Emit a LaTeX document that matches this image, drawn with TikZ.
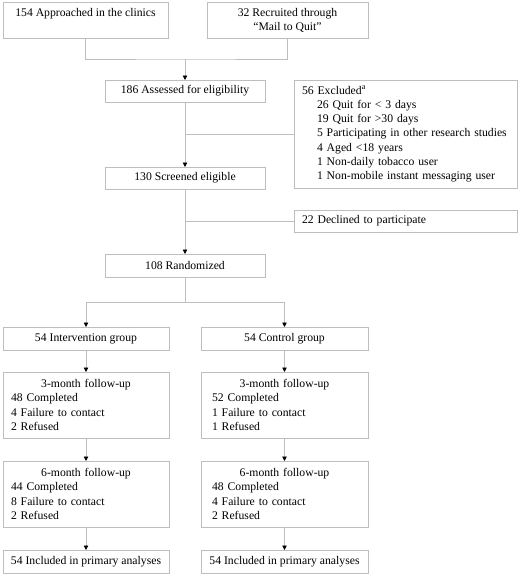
\documentclass[tikz,border=0pt]{standalone}
\usepackage{fontspec}
\setmainfont{Liberation Serif}
\usepackage{xcolor}
\usetikzlibrary{arrows.meta, positioning}
\definecolor{cinza}{RGB}{190,190,190}

\begin{document}
\begin{tikzpicture}[
		    x=1pt, y=-1pt,
		    every node/.style={font=\fontsize{11.7pt}{14.2pt}\selectfont},
		    caixa/.style={draw=cinza, line width=0.8pt, anchor=north west, outer sep=0pt, inner sep=0pt, align=center},
		    lista/.style={caixa, align=left, inner xsep=#1},
		    linha/.style={draw=cinza, line width=0.8pt},
		    seta/.style={linha, -{Triangle[length=4.5pt, width=4.5pt, black]}}
		]
		\useasboundingbox (0,0) rectangle (520,576);
		% entrada
		\node[caixa, minimum width=165pt, minimum height=36pt] (clinicas) at (3,2) {154 Approached in the clinics\\ \mbox{}};
		\node[caixa, minimum width=161pt, minimum height=36pt] (correio) at (207,2) {32 Recruited through\\ “Mail to Quit”};
		\node[caixa, minimum width=160pt, minimum height=22pt] (avaliados) at (105,80) {186 Assessed for eligibility};
		\node[lista=8pt, text width=207pt, minimum height=108pt] (excluidos) at (294,80) {56 Excluded\textsuperscript{a}\\
		    \hspace*{15pt}26 Quit for < 3 days\\
		    \hspace*{15pt}19 Quit for >30 days\\
		    \hspace*{15pt}5 Participating in other research studies\\
		    \hspace*{15pt}4 Aged <18 years\\
		    \hspace*{15pt}1 Non-daily tobacco user\\
		    \hspace*{15pt}1 Non-mobile instant messaging user};
		\node[caixa, minimum width=160pt, minimum height=22pt] (elegiveis) at (105,167) {130 Screened eligible};
		\node[lista=8pt, text width=207pt, minimum height=22pt] (recusou) at (294,210) {22 Declined to participate};
		\node[caixa, minimum width=160pt, minimum height=23pt] (aleat) at (105,254) {108 Randomized};
		% grupos
		\node[caixa, minimum width=166pt, minimum height=23pt] (interv) at (3,327) {54 Intervention group};
		\node[caixa, minimum width=167pt, minimum height=23pt] (controle) at (201,327) {54 Control group};
		\node[lista=8pt, text width=150pt, minimum height=66pt] (interv3) at (3,372) {\makebox[\hsize]{3-month follow-up}\\
		    48 Completed\\ 4 Failure to contact\\ 2 Refused};
		\node[lista=11pt, text width=145pt, minimum height=66pt] (controle3) at (201,372) {\makebox[\hsize]{3-month follow-up}\\
		    52 Completed\\ 1 Failure to contact\\ 1 Refused};
		\node[lista=8pt, text width=150pt, minimum height=66pt] (interv6) at (3,461) {\makebox[\hsize]{6-month follow-up}\\
		    44 Completed\\ 8 Failure to contact\\ 2 Refused};
		\node[lista=11pt, text width=145pt, minimum height=66pt] (controle6) at (201,461) {\makebox[\hsize]{6-month follow-up}\\
		    48 Completed\\ 4 Failure to contact\\ 2 Refused};
		\node[caixa, minimum width=166pt, minimum height=23pt] (intervA) at (3,550) {54 Included in primary analyses};
		\node[caixa, minimum width=167pt, minimum height=23pt] (controleA) at (201,550) {54 Included in primary analyses};
		% ligacoes
		\coordinate (juncao) at (185,59);
		\coordinate (divisao) at (185,302);
		\draw[linha] (clinicas.south) |- (juncao) -| (correio.south);
		\draw[seta] (juncao) -- (avaliados.north);
		\draw[seta] (avaliados) -- (elegiveis);
		\draw[linha] (avaliados.south |- excluidos.west) -- (excluidos.west);
		\draw[seta] (elegiveis) -- (aleat);
		\draw[linha] (elegiveis.south |- recusou.west) -- (recusou.west);
		\draw[linha] (aleat.south) -- (divisao);
		\draw[seta] (divisao) -| (interv.north);
		\draw[seta] (divisao) -| (controle.north);
		\draw[seta] (interv) -- (interv3);
		\draw[seta] (interv3) -- (interv6);
		\draw[seta] (interv6) -- (intervA);
		\draw[seta] (controle) -- (controle3);
		\draw[seta] (controle3) -- (controle6);
		\draw[seta] (controle6) -- (controleA);
		\end{tikzpicture}
\end{document}
